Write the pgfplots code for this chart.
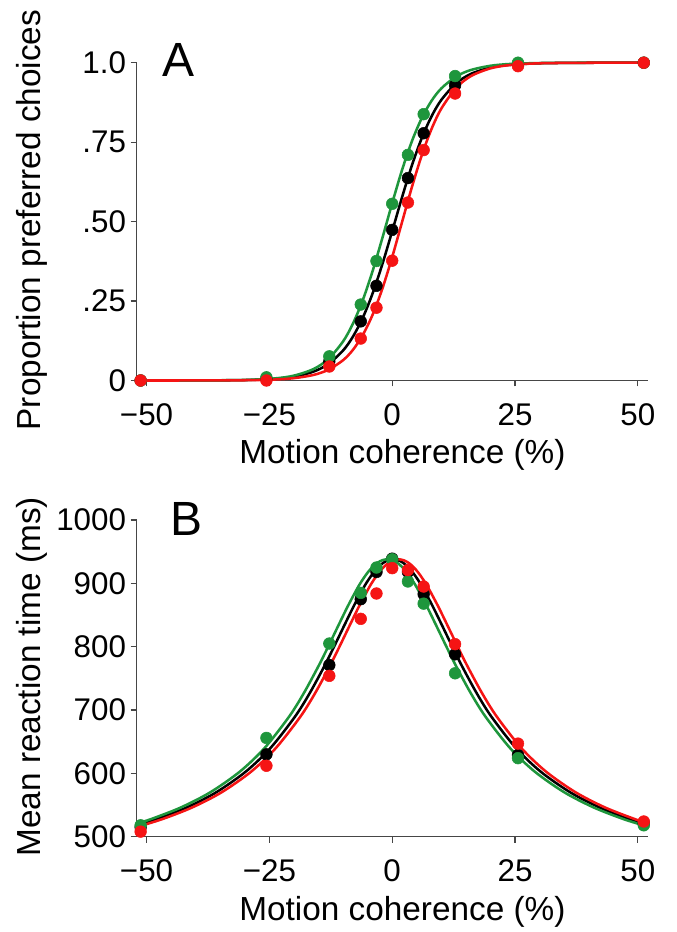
\documentclass[border=0pt]{standalone}
\usepackage{fontspec}
\setmainfont{Liberation Sans}
\usepackage{pgfplots}
\pgfplotsset{compat=1.18}
\definecolor{cgreen}{RGB}{30,150,60}
\definecolor{cred}{RGB}{245,20,20}
\definecolor{caxis}{RGB}{70,70,70}
\pgfplotsset{
  panel/.style={
    scale only axis, width=383.25pt,
    axis lines=left, axis line style={-, draw=caxis, line width=0.9pt},
    tick style={draw=caxis, line width=0.9pt},
    tick align=outside, major tick length=4.5pt,
    xmin=-52, xmax=52,
    xtick={-50,-25,0,25,50}, xticklabels={−50,−25,0,25,50},
    /pgf/number format/assume math mode=true,
    tick label style={font=\fontsize{23.5}{26}\selectfont},
    xticklabel style={yshift=-9pt},
    label style={font=\fontsize{25}{28}\selectfont},
    xlabel style={at={(axis description cs:0.52,0)}, anchor=base, yshift=-62.5pt},
    ylabel style={at={(axis description cs:-0.2055,0.505)}, anchor=center},
    clip=false,
  },
  crv/.style={line width=1.9pt, smooth, no markers},
  pts/.style={only marks, mark=*, mark size=4.4pt},
}
\begin{document}
\begin{tikzpicture}
\path[use as bounding box] (0,0) rectangle (507pt,699pt);
% ---------------- Panel A ----------------
\begin{axis}[panel, at={(102.525pt,413.625pt)}, anchor=south west, height=238.35pt,
  ymin=0, ymax=1, ytick={0,0.25,0.5,0.75,1}, yticklabels={0,.25,.50,.75,1.0},
  xlabel={Motion coherence (\%)}, ylabel={Proportion preferred choices}]
\addplot[crv, black] coordinates {(-51.5,0) (-40,0.0002) (-30,0.0014) (-24,0.0052) (-20,0.0121) (-16,0.0280) (-13,0.0520) (-10,0.0944) (-8,0.1378) (-6,0.1970) (-4,0.2736) (-2,0.3663) (0,0.4700) (2,0.5764) (4,0.6763) (6,0.7622) (8,0.8310) (10,0.8830) (13,0.9349) (16,0.9647) (20,0.9847) (24,0.9934) (30,0.9982) (40,0.9998) (51.5,1)};
\addplot[crv, cgreen] coordinates {(-51.5,0) (-40,0.0002) (-30,0.0017) (-24,0.0064) (-20,0.0153) (-16,0.0361) (-13,0.0676) (-10,0.1229) (-8,0.1787) (-6,0.2524) (-4,0.3439) (-2,0.4485) (0,0.5580) (2,0.6621) (4,0.7525) (6,0.8252) (8,0.8799) (10,0.9191) (13,0.9565) (16,0.9770) (20,0.9903) (24,0.9960) (30,0.9989) (40,0.9999) (51.5,1)};
\addplot[crv, cred] coordinates {(-51.5,0) (-40,0.0001) (-30,0.0008) (-24,0.0030) (-20,0.0073) (-16,0.0175) (-13,0.0338) (-10,0.0639) (-8,0.0963) (-6,0.1428) (-4,0.2065) (-2,0.2891) (0,0.3886) (2,0.4983) (4,0.6082) (6,0.7080) (8,0.7913) (10,0.8556) (13,0.9205) (16,0.9577) (20,0.9822) (24,0.9926) (30,0.9981) (40,0.9998) (51.5,1)};
\addplot[pts, black, mark options={fill=black}] coordinates {(-51.2,0) (-25.6,0.005) (-12.8,0.06) (-6.4,0.186) (-3.2,0.298) (0,0.474) (3.2,0.637) (6.4,0.778) (12.8,0.929) (25.6,0.995) (51.2,1.0)};
\addplot[pts, cgreen, mark options={fill=cgreen}] coordinates {(-51.2,0) (-25.6,0.01) (-12.8,0.076) (-6.4,0.239) (-3.2,0.376) (0,0.556) (3.2,0.710) (6.4,0.838) (12.8,0.958) (25.6,1.0) (51.2,1.0)};
\addplot[pts, cred, mark options={fill=cred}] coordinates {(-51.2,0) (-25.6,0.0) (-12.8,0.044) (-6.4,0.132) (-3.2,0.229) (0,0.377) (3.2,0.56) (6.4,0.725) (12.8,0.903) (25.6,0.989) (51.2,1.0)};
\node[font=\fontsize{36}{40}\selectfont, anchor=center] at (axis description cs:0.081,1.008) {A};
\end{axis}
% ---------------- Panel B ----------------
\begin{axis}[panel, at={(102.525pt,71.475pt)}, anchor=south west, height=237.5pt,
  ymin=500, ymax=1000, ytick={500,600,700,800,900,1000}, yticklabels={500,600,700,800,900,1000},
  xlabel={Motion coherence (\%)}, ylabel={Mean reaction time (ms)}]
\addplot[crv, black] coordinates {(-51.5,518.9) (-47.8,528.0) (-41.8,546.2) (-35.8,570.2) (-29.8,602.8) (-24.8,639.8) (-19.8,689.4) (-16.8,726.5) (-13.8,769.4) (-11.8,800.6) (-9.8,832.8) (-7.8,864.5) (-5.8,893.5) (-4.8,906.1) (-3.8,917.1) (-2.8,926.0) (-1.8,932.6) (-0.8,936.6) (0.2,938.0) (1.2,936.6) (2.2,932.6) (3.2,926.0) (4.2,917.1) (5.2,906.1) (6.2,893.5) (8.2,864.5) (10.2,832.8) (12.2,800.6) (14.2,769.4) (17.2,726.5) (20.2,689.4) (25.2,639.8) (30.2,602.8) (36.2,570.2) (42.2,546.2) (48.2,528.0) (51.5,519.9)};
\addplot[crv, cgreen] coordinates {(-51.5,521.8) (-49,528.0) (-43,546.2) (-37,570.2) (-31,602.8) (-26,639.8) (-21,689.4) (-18,726.5) (-15,769.4) (-13,800.6) (-11,832.8) (-9,864.5) (-7,893.5) (-6,906.1) (-5,917.1) (-4,926.0) (-3,932.6) (-2,936.6) (-1,938.0) (0,936.6) (1,932.6) (2,926.0) (3,917.1) (4,906.1) (5,893.5) (7,864.5) (9,832.8) (11,800.6) (13,769.4) (16,726.5) (19,689.4) (24,639.8) (29,602.8) (35,570.2) (41,546.2) (47,528.0) (51.5,517.1)};
\addplot[crv, cred] coordinates {(-51.5,516.4) (-46.7,528.0) (-40.7,546.2) (-34.7,570.2) (-28.7,602.8) (-23.7,639.8) (-18.7,689.4) (-15.7,726.5) (-12.7,769.4) (-10.7,800.6) (-8.7,832.8) (-6.7,864.5) (-4.7,893.5) (-3.7,906.1) (-2.7,917.1) (-1.7,926.0) (-0.7,932.6) (0.3,936.6) (1.3,938.0) (2.3,936.6) (3.3,932.6) (4.3,926.0) (5.3,917.1) (6.3,906.1) (7.3,893.5) (9.3,864.5) (11.3,832.8) (13.3,800.6) (15.3,769.4) (18.3,726.5) (21.3,689.4) (26.3,639.8) (31.3,602.8) (37.3,570.2) (43.3,546.2) (49.3,528.0) (51.5,522.5)};
\addplot[pts, black, mark options={fill=black}] coordinates {(-51.2,515) (-25.6,630) (-12.8,771) (-6.4,875) (-3.2,918) (0,939) (3.2,918) (6.4,883) (12.8,788) (25.6,629) (51.2,521)};
\addplot[pts, cgreen, mark options={fill=cgreen}] coordinates {(-51.2,518) (-25.6,656) (-12.8,805) (-6.4,885) (-3.2,925) (0,938) (3.2,903) (6.4,868) (12.8,758) (25.6,624) (51.2,518)};
\addplot[pts, cred, mark options={fill=cred}] coordinates {(-51.2,508) (-25.6,612) (-12.8,754) (-6.4,844) (-3.2,884) (0,924) (3.2,921) (6.4,895) (12.8,804) (25.6,647) (51.2,524)};
\node[font=\fontsize{36}{40}\selectfont, anchor=center] at (axis description cs:0.098,1.003) {B};
\end{axis}
\end{tikzpicture}
\end{document}
